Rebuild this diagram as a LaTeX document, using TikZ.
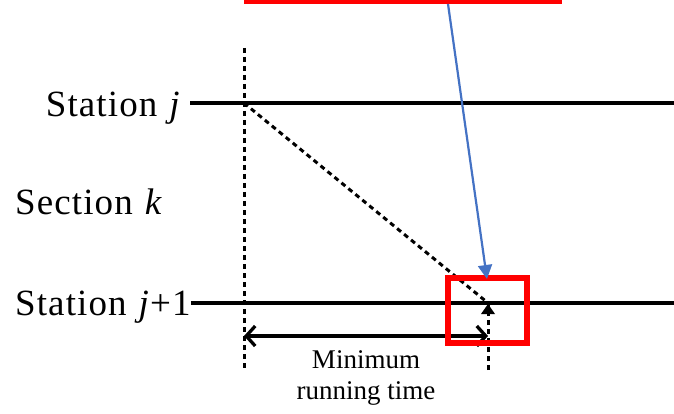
\documentclass[tikz,border=0pt]{standalone}
\usepackage{fontspec}
\setmainfont{Liberation Serif}
\usetikzlibrary{arrows.meta}
\begin{document}
\begin{tikzpicture}[x=1pt,y=-1pt,
  big/.style={font=\fontsize{37}{40}\selectfont\addfontfeatures{LetterSpace=3}, inner sep=0pt},
  small/.style={font=\fontsize{27}{31}\selectfont, inner sep=0pt, align=center},
  track/.style={line width=3.3pt},
  dots/.style={line width=3pt, dash pattern=on 5pt off 4pt},
  redbox/.style={draw=red, line width=5.5pt},
  bluearrow/.style={draw={rgb,255:red,68;green,114;blue,196}, line width=2.2pt, -{Triangle[length=14pt,width=14pt]}}]
\useasboundingbox (0,0) rectangle (674,414);
% top red bar (bottom edge of an off-picture box)
\fill[red] (244,0) rectangle (562,4.5);
\coordinate (barpt) at (448,4);
% labels
\node[big, anchor=base east] (sj) at (181,117) {Station\hspace{12pt}\textit{j}};
\node[big, anchor=base west] (sk) at (15,214) {Section\hspace{12pt}\textit{k}};
\node[big, anchor=base west] (sj1) at (15,315) {Station\hspace{12pt}\textit{j}+1};
% coordinates
\coordinate (aL) at (190,103);
\coordinate (aR) at (674,103);
\coordinate (bL) at (sj1.east |- 0,303);
\coordinate (bR) at (674,303);
\coordinate (dep) at (244,103);
\coordinate (arr) at (488,303);
\coordinate (vtop) at (244,48);
\coordinate (vbot) at (244,370);
\coordinate (v2bot) at (488,370);
\coordinate (mL) at (244,336);
\coordinate (mR) at (488,336);
% tracks
\draw[track] (aL) -- (aR);
\draw[track] (bL) -- (bR);
% dotted lines
\draw[dots] (vtop) -- (vbot);
\draw[dots] (dep) -- (arr);
\draw[dots] (v2bot) -- (arr);
\fill (488,304) -- (481,314) -- (495,314) -- cycle;
% minimum running time arrow
\draw[line width=3.3pt, {Straight Barb[length=9pt,width=20pt]}-{Straight Barb[length=9pt,width=20pt]}] (mL) -- (mR);
\node[small] (mrt) at (366,378) {Minimum\\running time};
% red box
\node[redbox, minimum width=79pt, minimum height=65pt, inner sep=0pt] (box) at (487.5,310.5) {};
% blue arrow
\coordinate (btip) at (487,279);
\draw[bluearrow] (barpt) -- (btip);
\end{tikzpicture}
\end{document}
